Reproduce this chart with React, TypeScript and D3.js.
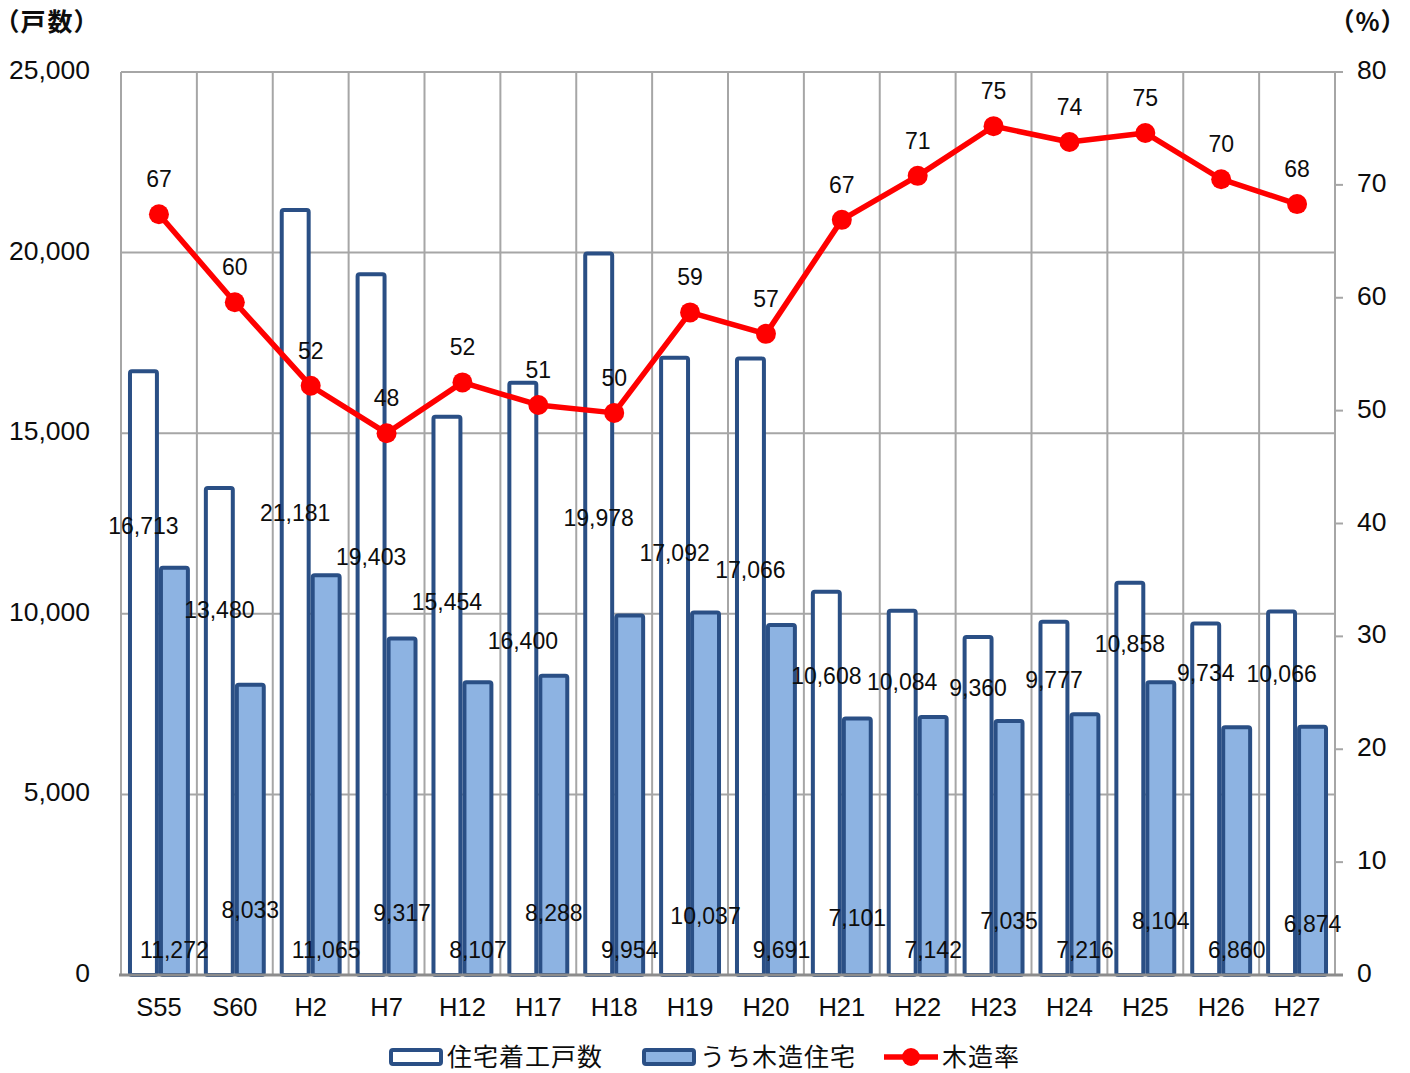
import React from "react";
import * as d3 from "d3";

const categories = ["S55", "S60", "H2", "H7", "H12", "H17", "H18", "H19", "H20", "H21", "H22", "H23", "H24", "H25", "H26", "H27"];
const totalStarts = [16713, 13480, 21181, 19403, 15454, 16400, 19978, 17092, 17066, 10608, 10084, 9360, 9777, 10858, 9734, 10066];
const woodenStarts = [11272, 8033, 11065, 9317, 8107, 8288, 9954, 10037, 9691, 7101, 7142, 7035, 7216, 8104, 6860, 6874];
const woodenRate = [67.4, 59.6, 52.2, 48.0, 52.5, 50.5, 49.8, 58.7, 56.8, 66.9, 70.8, 75.2, 73.8, 74.6, 70.5, 68.3];
const rateLabels = ["67", "60", "52", "48", "52", "51", "50", "59", "57", "67", "71", "75", "74", "75", "70", "68"];
const leftTicks = [0, 5000, 10000, 15000, 20000, 25000];
const rightTicks = [0, 10, 20, 30, 40, 50, 60, 70, 80];
const legendLabels = ["住宅着工戸数", "うち木造住宅", "木造率"];

// label anchor levels (in 戸数 units) as placed in the original chart
const totalLabelAt = [12430, 10100, 12790, 11570, 10330, 9250, 12650, 11680, 11210, 8280, 8110, 7950, 8170, 9160, 8360, 8330];
const woodLabelAt = [690, 1800, 690, 1720, 690, 1720, 690, 1630, 690, 1580, 690, 1500, 690, 1500, 690, 1410];

const W = 1410, H = 1073;
const L = 121, R = 1335, T = 72, B = 975;
const FONT = "'Liberation Sans', Arial, sans-serif";
const JP = "'Noto Sans CJK JP', 'Noto Sans', sans-serif";
const STROKE = "#2a4f85";
const FILL = "#8db3e2";
const GRID = "#a6a6a6";
const INK = "#0d0d0d";

export default function App() {
  const x = d3.scaleBand<string>().domain(categories).range([L, R]).paddingInner(0).paddingOuter(0);
  const sub = d3.scaleBand<string>().domain(["total", "wood"]).range([0, x.bandwidth()]).paddingInner(0.13).paddingOuter(0.29);
  const y = d3.scaleLinear().domain([0, 25000]).range([B, T]);
  const y2 = d3.scaleLinear().domain([0, 80]).range([B, T]);
  const line = d3.line<number>()
    .x((_, i) => (x(categories[i]) as number) + x.bandwidth() / 2)
    .y((d) => y2(d));

  const boundaries = categories.map((c) => x(c) as number).concat([R]);

  return (
    <svg width={W} height={H} style={{ display: "block", position: "absolute", left: 0, top: 0 }}>
      <rect x={0} y={0} width={W} height={H} fill="#fff" />
      {leftTicks.map((t) => (
        <line key={"h" + t} x1={L} x2={R} y1={y(t)} y2={y(t)} stroke={GRID} strokeWidth={2} />
      ))}
      {boundaries.map((b, i) => (
        <line key={"v" + i} x1={b} x2={b} y1={T} y2={B} stroke={GRID} strokeWidth={2} />
      ))}
      {rightTicks.map((t) => (
        <line key={"rt" + t} x1={R} x2={R + 8} y1={y2(t)} y2={y2(t)} stroke={GRID} strokeWidth={2} />
      ))}
      {categories.map((c, i) => {
        const x0 = x(c) as number;
        return (
          <g key={"bar" + c}>
            <rect x={x0 + (sub("total") as number)} y={y(totalStarts[i])} width={sub.bandwidth()} height={B - y(totalStarts[i])}
              fill="#fff" stroke={STROKE} strokeWidth={4} rx={2} />
            <rect x={x0 + (sub("wood") as number)} y={y(woodenStarts[i])} width={sub.bandwidth()} height={B - y(woodenStarts[i])}
              fill={FILL} stroke={STROKE} strokeWidth={4} rx={2} />
          </g>
        );
      })}
      <line x1={L - 2} x2={R + 8} y1={B} y2={B} stroke="#8c8c8c" strokeWidth={3} />
      <path d={line(woodenRate) || ""} fill="none" stroke="#ff0000" strokeWidth={5.5} strokeLinejoin="round" />
      {woodenRate.map((v, i) => (
        <circle key={"pt" + i} cx={(x(categories[i]) as number) + x.bandwidth() / 2} cy={y2(v)} r={10} fill="#ff0000" />
      ))}
      {categories.map((c, i) => {
        const x0 = x(c) as number;
        return (
          <g key={"lab" + c} fontFamily={FONT} fontSize={23} fill={INK}>
            <text x={x0 + (sub("total") as number) + sub.bandwidth() / 2} y={y(totalLabelAt[i])} textAnchor="middle" dominantBaseline="central">
              {d3.format(",")(totalStarts[i])}
            </text>
            <text x={x0 + (sub("wood") as number) + sub.bandwidth() / 2} y={y(woodLabelAt[i])} textAnchor="middle" dominantBaseline="central">
              {d3.format(",")(woodenStarts[i])}
            </text>
          </g>
        );
      })}
      {woodenRate.map((v, i) => (
        <text key={"rl" + i} x={(x(categories[i]) as number) + x.bandwidth() / 2} y={y2(v) - 35} textAnchor="middle" dominantBaseline="central"
          fontFamily={FONT} fontSize={23} fill={INK}>{rateLabels[i]}</text>
      ))}
      {leftTicks.map((t) => (
        <text key={"lt" + t} x={90} y={y(t) - 2} textAnchor="end" dominantBaseline="central" fontFamily={FONT} fontSize={26.5} fill={INK}>
          {d3.format(",")(t)}
        </text>
      ))}
      {rightTicks.map((t) => (
        <text key={"rtl" + t} x={1357} y={y2(t) - 2} textAnchor="start" dominantBaseline="central" fontFamily={FONT} fontSize={26.5} fill={INK}>
          {t}
        </text>
      ))}
      {categories.map((c) => (
        <text key={"cl" + c} x={(x(c) as number) + x.bandwidth() / 2} y={1007} textAnchor="middle" dominantBaseline="central"
          fontFamily={FONT} fontSize={25.5} fill={INK}>{c}</text>
      ))}
      <text x={6} y={20} dominantBaseline="central" fontFamily={JP} fontSize={25} fontWeight={700} fill={INK} letterSpacing={2}
        style={{ fontFeatureSettings: '"palt"' }}>（戸数）</text>
      <text x={1396} y={20} textAnchor="end" dominantBaseline="central" fontFamily={JP} fontSize={25} fontWeight={700} fill={INK} letterSpacing={2}
        style={{ fontFeatureSettings: '"palt"' }}>（%）</text>
      <g fontFamily={JP} fontSize={25} fill={INK}>
        <rect x={391} y={1050} width={50} height={14} fill="#fff" stroke={STROKE} strokeWidth={4} rx={2} />
        <text x={447} y={1055} dominantBaseline="central" letterSpacing={1}>{legendLabels[0]}</text>
        <rect x={644} y={1050} width={50} height={14} fill={FILL} stroke={STROKE} strokeWidth={4} rx={2} />
        <text x={700} y={1055} dominantBaseline="central" letterSpacing={1}>{legendLabels[1]}</text>
        <line x1={884} x2={938} y1={1057} y2={1057} stroke="#ff0000" strokeWidth={5.5} />
        <circle cx={911} cy={1057} r={9} fill="#ff0000" />
        <text x={942} y={1055} dominantBaseline="central" letterSpacing={1}>{legendLabels[2]}</text>
      </g>
    </svg>
  );
}
